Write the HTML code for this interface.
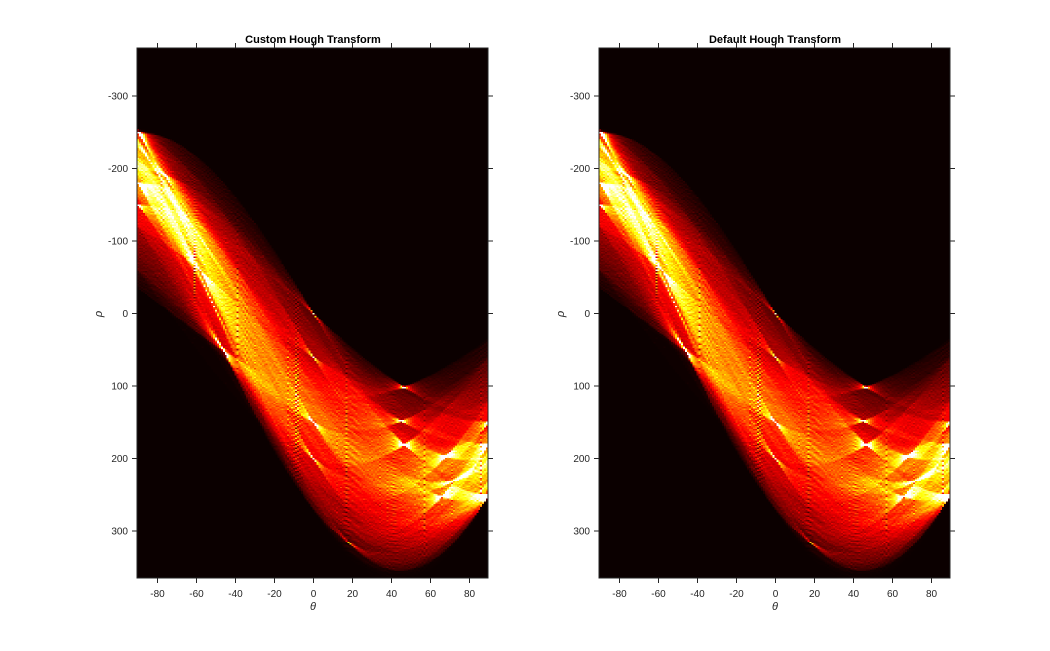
<!DOCTYPE html>
<html><head><meta charset="utf-8">
<style>
html,body{margin:0;padding:0;background:#fff;width:1050px;height:651px;overflow:hidden;}
svg text{font-family:"Liberation Sans",Arial,sans-serif;}
canvas{position:absolute;image-rendering:pixelated;}
</style></head>
<body>
<canvas id="c1" width="180" height="366" style="left:137px;top:48px;width:351px;height:530px;"></canvas>
<canvas id="c2" width="180" height="366" style="left:599px;top:48px;width:351px;height:530px;"></canvas>
<svg id="ov" width="1050" height="651" style="position:absolute;left:0;top:0"></svg>
<script>
// data: edge segments [x1,y1,x2,y2,weight] of the source image
const segments = [
 [0,250,250,250,1.6],[0,180,260,180,1.0],[0,150,200,150,0.8],
 [0,140,110,35,0.9],[110,35,270,190,0.8],[0,250,0,140,0.7],
 [250,250,270,190,0.8],[30,200,230,120,0.9],[20,230,200,60,1.0],
 [60,250,260,160,0.9],[150,80,150,250,0.7],[200,120,200,250,0.7],
 [80,120,240,220,1.0],[40,170,150,60,0.9],[10,200,180,240,0.8],
 [100,210,160,190,1.2],[120,200,150,215,1.2],[170,230,250,240,1.2],
 [130,60,230,150,0.7],[60,100,60,250,0.6],[230,200,270,230,1.0]
];
// data: filled region polygon (textured edges)
const region = [[0,140],[110,35],[125,35],[270,185],[270,255],[0,255]];
// data: dense bright cluster polygon
const cluster = [[60,170],[150,150],[250,200],[260,250],[120,250]];
const regionWeight = 0.35;
const clusterWeight = 0.5;
const thetaTicks = [-80,-60,-40,-20,0,20,40,60,80];
const rhoTicks = [-300,-200,-100,0,100,200,300];
const titles = ["Custom Hough Transform","Default Hough Transform"];

const RHO_MAX=366, BIN=2, NB=366;
function inPoly(x,y,p){let c=false;for(let i=0,j=p.length-1;i<p.length;j=i++){const [xi,yi]=p[i],[xj,yj]=p[j];if(((yi>y)!=(yj>y))&&(x<(xj-xi)*(y-yi)/(yj-yi)+xi))c=!c;}return c;}
function accumulate(){
  const acc=new Float32Array(180*NB);
  const pts=[];
  segments.forEach(s=>{const L=Math.hypot(s[2]-s[0],s[3]-s[1]);const n=Math.ceil(L/2);for(let k=0;k<=n;k++){pts.push([s[0]+(s[2]-s[0])*k/n,s[1]+(s[3]-s[1])*k/n,s[4]]);}});
  // low-discrepancy (R2 sequence) sampling of the regions, avoids grid aliasing
  const a1=0.7548776662, a2=0.5698402910;
  for(let i=0;i<4700;i++){const x=((0.5+a1*i)%1)*275, y=((0.5+a2*i)%1)*260;
    if(inPoly(x,y,region))pts.push([x,y,regionWeight]);if(inPoly(x,y,cluster))pts.push([x,y,clusterWeight]);}
  for(let t=0;t<180;t++){const th=(t-90)*Math.PI/180,c=Math.cos(th),s=Math.sin(th);
    for(const p of pts){const r=p[0]*c+p[1]*s;const b=Math.round((r+RHO_MAX)/BIN);if(b>=0&&b<NB)acc[b*180+t]+=p[2];}}
  return acc;
}
function hot(t){t=Math.max(0,Math.min(1,t));const r=Math.min(1,0.0416+t*8/3),g=Math.max(0,Math.min(1,(t-3/8)*8/3)),b=Math.max(0,Math.min(1,(t-6/8)*4));return [r*255,g*255,b*255];}
function draw(id,acc){
  const cv=document.getElementById(id),ctx=cv.getContext('2d');const img=ctx.createImageData(180,NB);
  const nz=Array.from(acc).filter(v=>v>0).sort((a,b)=>a-b);
  const ref=nz[Math.floor(nz.length*0.985)];
  for(let i=0;i<acc.length;i++){const t=acc[i]>0?Math.pow(acc[i]/ref,1.35):0;const [r,g,b]=hot(t);img.data[i*4]=r;img.data[i*4+1]=g;img.data[i*4+2]=b;img.data[i*4+3]=255;}
  ctx.putImageData(img,0,0);
}
const acc=accumulate();draw('c1',acc);draw('c2',acc);

const ov=document.getElementById('ov');const NS='http://www.w3.org/2000/svg';
function el(tag,attrs,txt){const e=document.createElementNS(NS,tag);for(const k in attrs)e.setAttribute(k,attrs[k]);if(txt!=null)e.textContent=txt;ov.appendChild(e);return e;}
[137,599].forEach((L,pi)=>{
  const R=L+351,T=48,B=578;
  const xs=th=>L+176.5+1.95*th, ys=r=>313.5+0.725*r;
  const box=el('rect',{x:L,y:T,width:351,height:530,fill:'none',stroke:'#262626','stroke-width':1});
  
  
  thetaTicks.forEach(v=>{const x=xs(v);
    el('line',{x1:x,y1:B,x2:x,y2:B+5,stroke:'#262626'});el('line',{x1:x,y1:T,x2:x,y2:T-5,stroke:'#262626'});
    const t=el('text',{x:x,y:B+19,'font-size':10,fill:'#262626','text-anchor':'middle'},String(v));
    
    });
  rhoTicks.forEach(v=>{const y=ys(v);
    el('line',{x1:L,y1:y,x2:L-5,y2:y,stroke:'#262626'});el('line',{x1:R,y1:y,x2:R+5,y2:y,stroke:'#262626'});
    const t=el('text',{x:L-9,y:y+3.5,'font-size':10,fill:'#262626','text-anchor':'end'},String(v));
    
    });
  const tt=el('text',{x:L+176,y:43,'font-size':11,'font-weight':'bold',fill:'#000','text-anchor':'middle'},titles[pi]);
  
  
  const xl=el('text',{x:L+176,y:610,'font-size':11,'font-style':'italic',fill:'#262626','text-anchor':'middle'},'θ');
  
  
  const yl=el('text',{x:L-35,y:314,'font-size':11,'font-style':'italic',fill:'#262626','text-anchor':'middle',transform:`rotate(-90 ${L-35} 314)`},'ρ');
  
  
});
</script>
</body></html>
